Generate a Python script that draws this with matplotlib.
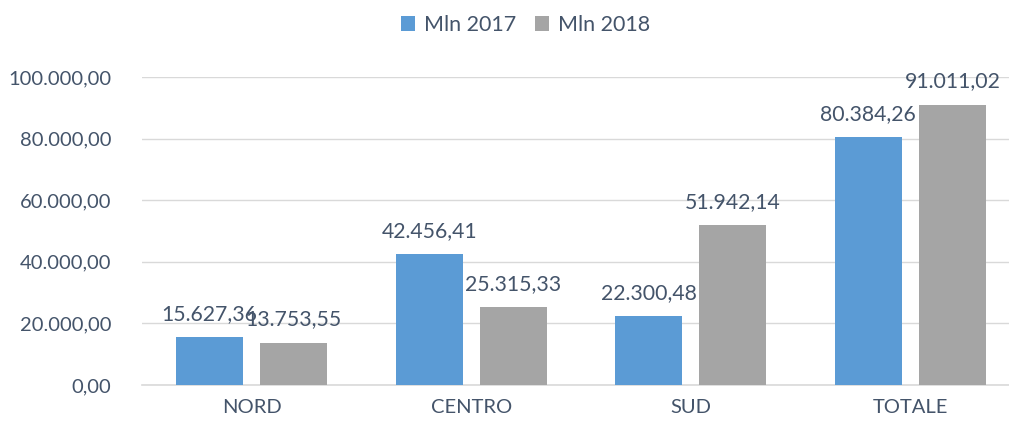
import matplotlib.pyplot as plt
import numpy as np

plt.rcParams['font.family'] = ['Lato', 'DejaVu Sans']

# data
categories = ['NORD', 'CENTRO', 'SUD', 'TOTALE']
mln_2017 = [15627.36, 42456.41, 22300.48, 80384.26]
mln_2018 = [13753.55, 25315.33, 51942.14, 91011.02]
yticks = [0, 20000, 40000, 60000, 80000, 100000]

text_col = '#44546A'
blue = '#5B9BD5'
grey = '#A5A5A5'


def it_fmt(v):
    # italian number format: 12.345,67
    s = '{:,.2f}'.format(v)
    return s.replace(',', 'X').replace('.', ',').replace('X', '.')


fig = plt.figure(figsize=(10.09, 4.26), dpi=100)
ax = fig.add_axes([142 / 1009, 1 - 385 / 426, 878 / 1009, 308 / 426])

x = np.arange(len(categories))
w = 0.306
off = 0.192
b1 = ax.bar(x - off, mln_2017, w, color=blue, label='Mln 2017', zorder=3)
b2 = ax.bar(x + off, mln_2018, w, color=grey, label='Mln 2018', zorder=3)

for bars, vals in ((b1, mln_2017), (b2, mln_2018)):
    for r, v in zip(bars, vals):
        ax.annotate(it_fmt(v), (r.get_x() + r.get_width() / 2, v),
                    xytext=(0, 9.5), textcoords='offset points',
                    ha='center', va='bottom', fontsize=15.3, color=text_col,
                    zorder=4)

ax.set_xlim(-0.5, 3.5)
ax.set_ylim(0, 100000)
ax.set_yticks(yticks)
ax.set_yticklabels([it_fmt(t) for t in yticks])
ax.set_xticks(x)
ax.set_xticklabels(categories)
ax.tick_params(axis='y', length=0, labelsize=14.5, colors=text_col, pad=22)
ax.tick_params(axis='x', length=0, labelsize=14.5, colors=text_col, pad=10)
ax.grid(axis='y', color='#D9D9D9', linewidth=1, zorder=0)
for s in ['top', 'right', 'left']:
    ax.spines[s].set_visible(False)
ax.spines['bottom'].set_color('#D9D9D9')
ax.spines['bottom'].set_linewidth(1.2)

fig.legend(loc='upper center', bbox_to_anchor=(0.521, 1.01), ncol=2, frameon=False,
           fontsize=15.5, labelcolor=text_col, handlelength=0.65, handleheight=0.65,
           handletextpad=0.4, columnspacing=0.9)

fig.savefig('out.png', dpi=100)
